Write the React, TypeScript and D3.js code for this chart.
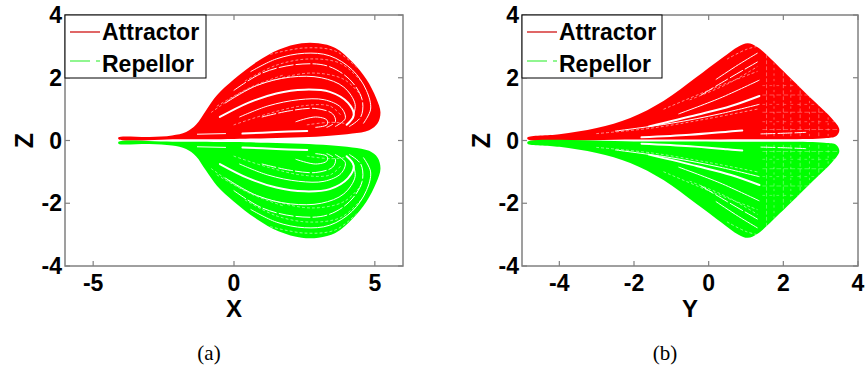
import React from 'react';
import * as d3 from 'd3';

type Pt = [number, number];

// axis ticks
const zTicks = [-4, -2, 0, 2, 4];
const xTicksA = [-5, 0, 5];
const yTicksB = [-4, -2, 0, 2, 4];
const legendLabels = ['Attractor', 'Repellor'];

// panel (a): X-Z projection, attractor half (z > 0); the repellor is its mirror image
const xzOutline: Pt[] = [
  [-4.1, 0.1], [-3.0, 0.11], [-2.2, 0.16], [-1.7, 0.27], [-1.35, 0.5], [-1.0, 0.95],
  [-0.6, 1.45], [0.0, 1.95], [0.8, 2.5], [1.6, 2.9], [2.4, 3.1], [3.0, 3.1],
  [3.6, 2.95], [4.2, 2.5], [4.7, 1.95], [5.05, 1.35], [5.2, 0.9], [5.1, 0.55],
  [4.8, 0.33], [4.2, 0.22], [3.4, 0.15], [2.4, 0.1], [1.2, 0.07], [0.0, 0.05],
  [-2.0, 0.04], [-4.1, 0.04],
];
const xzGapsWide: Pt[][] = [
  [[-0.5, 0.75], [0.5, 1.2], [1.5, 1.5], [2.5, 1.62], [3.4, 1.55], [4.05, 1.2], [4.25, 0.8], [4.0, 0.5]],
  [[0.3, 0.22], [1.5, 0.27], [2.6, 0.3]],
];
const xzGapsThin: Pt[][] = [
  [[0.6, 2.2], [1.5, 2.6], [2.5, 2.78], [3.4, 2.7], [4.2, 2.25], [4.7, 1.6], [4.85, 1.0], [4.6, 0.55]],
  [[0.0, 1.6], [1.0, 2.15], [2.2, 2.42], [3.3, 2.38], [4.1, 1.95], [4.55, 1.3], [4.5, 0.75], [4.1, 0.45]],
  [[-0.3, 1.2], [0.8, 1.75], [2.0, 2.02], [3.1, 2.0], [3.9, 1.7], [4.3, 1.15], [4.2, 0.7]],
  [[0.2, 0.75], [1.2, 1.1], [2.3, 1.3], [3.2, 1.3], [3.8, 1.05], [3.95, 0.7], [3.6, 0.45]],
  [[1.0, 0.75], [2.0, 0.95], [2.9, 1.02], [3.5, 0.85], [3.6, 0.6], [3.3, 0.42]],
  [[2.2, 0.6], [2.9, 0.75], [3.3, 0.65], [3.3, 0.5], [2.9, 0.42]],
  [[-1.3, 0.2], [-0.3, 0.22]],
];
const xzSpeckle: Pt[][] = [
  [[-0.8, 0.9], [0.3, 1.55], [1.5, 1.95], [2.8, 2.15], [3.9, 1.95], [4.5, 1.45]],
  [[0.4, 1.9], [1.5, 2.4], [2.7, 2.6], [3.8, 2.45], [4.5, 1.9]],
  [[0.0, 0.5], [1.2, 0.85], [2.4, 1.1], [3.4, 1.1], [3.8, 0.8]],
  [[1.3, 2.75], [2.5, 2.95], [3.6, 2.85], [4.4, 2.3]],
  [[-0.6, 1.1], [0.6, 1.7], [1.8, 2.1]],
  [[2.6, 0.5], [3.4, 0.58], [3.9, 0.55]],
];
const xzMeshX: number[] = [];
const xzMeshZ: number[] = [];

// panel (b): Y-Z projection
const yzOutline: Pt[] = [
  [-4.85, 0.1], [-4.0, 0.2], [-3.0, 0.4], [-2.1, 0.72], [-1.2, 1.27], [-0.35, 2.0],
  [0.35, 2.62], [0.8, 3.0], [1.05, 3.1], [1.3, 2.98], [1.9, 2.33], [2.8, 1.28],
  [3.3, 0.7], [3.5, 0.35], [3.42, 0.14], [3.1, 0.07], [1.0, 0.04], [-2.0, 0.03],
  [-4.85, 0.04],
];
const yzGapsWide: Pt[][] = [
  [[-1.6, 0.45], [-0.3, 0.82], [0.6, 1.1], [1.36, 1.42]],
  [[-1.8, 0.1], [-0.5, 0.18], [0.5, 0.28], [0.9, 0.32]],
];
const yzGapsThin: Pt[][] = [
  [[-0.8, 0.85], [0.3, 1.35], [1.35, 1.92]],
  [[-0.2, 1.45], [0.5, 1.95], [1.33, 2.52]],
  [[0.2, 1.95], [0.8, 2.42], [1.3, 2.78]],
  [[-2.5, 0.3], [-1.0, 0.55], [0.3, 0.85], [1.35, 1.15]],
  [[1.4, 0.21], [2.0, 0.23], [2.6, 0.26]],
];
const yzSpeckle: Pt[][] = [
  [[-3.0, 0.22], [-1.5, 0.4], [0.0, 0.7], [1.3, 1.0]],
  [[-1.2, 1.0], [0.0, 1.6], [1.3, 2.2]],
  [[0.5, 2.6], [1.0, 2.9], [1.3, 3.0]],
  [[-0.5, 1.3], [0.5, 1.8], [1.3, 2.35]],
];
const yzMeshX = [1.55, 1.75, 2.0, 2.2, 2.45, 2.7, 2.95, 3.2];
const yzMeshZ = [0.35, 0.6, 0.9, 1.15, 1.45, 1.75];

type PanelProps = {
  id: string;
  left: number; right: number; top: number; bottom: number;
  xDomain: [number, number];
  xTicks: number[];
  xLabel: string;
  caption: string;
  outline: Pt[]; gapsWide: Pt[][]; gapsThin: Pt[][]; speckle: Pt[][];
  meshX: number[]; meshZ: number[];
  legendW: number;
};

const sans = '"Liberation Sans", Arial, sans-serif';

function Panel(p: PanelProps) {
  const x = d3.scaleLinear().domain(p.xDomain).range([p.left, p.right]);
  const z = d3.scaleLinear().domain([-4, 4]).range([p.bottom, p.top]);
  const tick = 5;

  const half = (sign: number, color: string, key: string) => {
    const open = d3.line<Pt>().x(d => x(d[0])).y(d => z(sign * d[1])).curve(d3.curveCatmullRom.alpha(0.5));
    const closed = d3.line<Pt>().x(d => x(d[0])).y(d => z(sign * d[1])).curve(d3.curveCatmullRomClosed.alpha(0.5));
    const clipId = `${p.id}-${key}`;
    const shape = closed(p.outline) || '';
    return (
      <g key={key}>
        <clipPath id={clipId}><path d={shape} /></clipPath>
        <path d={shape} fill={color} />
        <g clipPath={`url(#${clipId})`} fill="none" stroke="#fff" strokeLinecap="round">
          {p.meshX.map((v, i) => (
            <line key={'mx' + i} x1={x(v)} x2={x(v)} y1={z(sign * 0.15)} y2={z(sign * 3.3)}
              strokeWidth={0.8} strokeDasharray={i % 2 ? '1.5 4' : '3 3'} opacity={0.45} />
          ))}
          {p.meshZ.map((v, i) => (
            <line key={'mz' + i} x1={x(1.45)} x2={x(3.6)} y1={z(sign * v)} y2={z(sign * v)}
              strokeWidth={0.8} strokeDasharray={i % 2 ? '2 5' : '4 3'} opacity={0.4} />
          ))}
          {p.speckle.map((g, i) => (
            <path key={'s' + i} d={open(g) || ''} strokeWidth={0.8} strokeDasharray="2 3" opacity={0.7} />
          ))}
          {p.gapsThin.map((g, i) => (
            <path key={'t' + i} d={open(g) || ''} strokeWidth={1.0}
              strokeDasharray={i % 3 === 1 ? '14 3' : undefined} />
          ))}
          {p.gapsWide.map((g, i) => (
            <path key={'w' + i} d={open(g) || ''} strokeWidth={2.0} />
          ))}
        </g>
      </g>
    );
  };

  const lx = p.left;
  const ly = p.top;

  return (
    <g>
      {half(1, '#ff0000', 'attr')}
      {half(-1, '#00ff00', 'rep')}

      {/* frame and ticks */}
      <rect x={p.left} y={p.top} width={p.right - p.left} height={p.bottom - p.top}
        fill="none" stroke="#808080" strokeWidth={1.5} />
      <g stroke="#808080" strokeWidth={1.2}>
        {p.xTicks.map(t => (
          <g key={'xt' + t}>
            <line x1={x(t)} x2={x(t)} y1={p.bottom} y2={p.bottom - tick} />
            <line x1={x(t)} x2={x(t)} y1={p.top} y2={p.top + tick} />
          </g>
        ))}
        {zTicks.map(t => (
          <g key={'zt' + t}>
            <line x1={p.left} x2={p.left + tick} y1={z(t)} y2={z(t)} />
            <line x1={p.right} x2={p.right - tick} y1={z(t)} y2={z(t)} />
          </g>
        ))}
      </g>
      <g fontFamily={sans} fontWeight="bold" fontSize={23} fill="#000">
        {p.xTicks.map(t => (
          <text key={'xl' + t} x={x(t)} y={p.bottom + 25} textAnchor="middle">{t}</text>
        ))}
        {zTicks.map(t => (
          <text key={'zl' + t} x={p.left - 3} y={z(t) + 8} textAnchor="end">{t}</text>
        ))}
        <text x={(p.left + p.right) / 2} y={p.bottom + 51} textAnchor="middle" fontSize={24}>{p.xLabel}</text>
        <text transform={`translate(${p.left - 32},${z(0)}) rotate(-90)`} textAnchor="middle" fontSize={25}>Z</text>
      </g>

      {/* legend */}
      <rect x={lx} y={ly} width={p.legendW} height={63} fill="#fff" stroke="#000" strokeWidth={1} />
      <line x1={lx + 5} x2={lx + 35} y1={ly + 17} y2={ly + 17} stroke="#cc0000" strokeWidth={1.2} />
      <line x1={lx + 5} x2={lx + 35} y1={ly + 46} y2={ly + 46} stroke="#22ee22" strokeWidth={1.2}
        strokeDasharray="20 6 4" />
      <g fontFamily={sans} fontWeight="bold" fontSize={23} fill="#000">
        <text x={lx + 37} y={ly + 25}>{legendLabels[0]}</text>
        <text x={lx + 37} y={ly + 57}>{legendLabels[1]}</text>
      </g>

      <text x={(p.left + p.right) / 2 - 25} y={360} textAnchor="middle"
        fontFamily='"Liberation Serif", "DejaVu Serif", serif' fontSize={21}>{p.caption}</text>
    </g>
  );
}

export default function App() {
  return (
    <svg width={865} height={369} style={{ position: 'absolute', left: 0, top: 0, background: '#fff' }}>
      <rect width={865} height={369} fill="#fff" />
      <Panel id="pa" left={65} right={403} top={15} bottom={266} xDomain={[-6, 6]} xTicks={xTicksA}
        xLabel="X" caption="(a)" outline={xzOutline} gapsWide={xzGapsWide} gapsThin={xzGapsThin}
        speckle={xzSpeckle} meshX={xzMeshX} meshZ={xzMeshZ} legendW={141} />
      <Panel id="pb" left={522} right={858} top={15} bottom={266} xDomain={[-5, 4]} xTicks={yTicksB}
        xLabel="Y" caption="(b)" outline={yzOutline} gapsWide={yzGapsWide} gapsThin={yzGapsThin}
        speckle={yzSpeckle} meshX={yzMeshX} meshZ={yzMeshZ} legendW={140} />
    </svg>
  );
}
